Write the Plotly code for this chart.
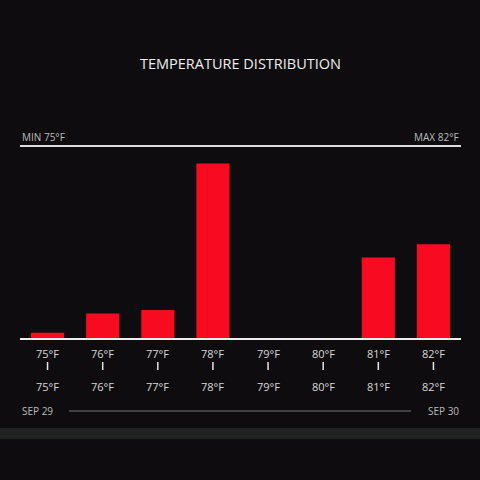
import plotly.graph_objects as go

categories = ["75°F", "76°F", "77°F", "78°F", "79°F", "80°F", "81°F", "82°F"]
values = [3.5, 14.5, 16.5, 100, 0, 0.4, 46.5, 54]
upper_labels = ["75°F", "76°F", "77°F", "78°F", "79°F", "80°F", "81°F", "82°F"]
lower_labels = ["75°F", "76°F", "77°F", "78°F", "79°F", "80°F", "81°F", "82°F"]
min_label = "MIN 75°F"
max_label = "MAX 82°F"
start_label = "SEP 29"
end_label = "SEP 30"
title = "TEMPERATURE DISTRIBUTION"

bg = "#0f0c0f"
font_family = "Open Sans, Lato, sans-serif"
label_color = "#d8d8d8"

fig = go.Figure(
    go.Bar(
        x=categories,
        y=values,
        marker=dict(color="#f80b20", line=dict(width=0)),
        width=0.6,
    )
)


def py(pixel_y):
    # convert a pixel row into paper coordinates of the plot area (146..339)
    return (339 - pixel_y) / 193


def note(x, y, text, size, color, xref="paper", xanchor="center"):
    return dict(x=x, y=py(y), xref=xref, yref="paper", text=text, xanchor=xanchor,
                yanchor="middle", showarrow=False, font=dict(size=size, color=color))


annotations = []
shapes = []
for i, (cat, top, bottom) in enumerate(zip(categories, upper_labels, lower_labels)):
    annotations.append(note(cat, 353, top, 11, label_color, xref="x"))
    annotations.append(note(cat, 386, bottom, 11, label_color, xref="x"))
    shapes.append(dict(type="line", xref="x", yref="paper", x0=i, x1=i,
                       y0=py(370), y1=py(362), line=dict(color="#e6e6e6", width=1.5)))

annotations += [
    note(0, 137, min_label, 10, "#bbbbbb", xanchor="left"),
    note(1, 137, max_label, 10, "#bbbbbb", xanchor="right"),
    note(0, 411, start_label, 10, "#bbbbbb", xanchor="left"),
    note(1, 411, end_label, 10, "#bbbbbb", xanchor="right"),
    note(0.5, 63, title, 14.5, "#eeeeee"),
]

shapes += [
    dict(type="line", xref="paper", yref="paper", x0=0, x1=1, y0=1, y1=1,
         line=dict(color="#dddddd", width=2)),
    dict(type="line", xref="paper", yref="paper", x0=0, x1=1, y0=0, y1=0,
         line=dict(color="#eeeeee", width=2)),
    dict(type="line", xref="paper", yref="paper", x0=(69 - 20) / 441, x1=(411 - 20) / 441,
         y0=py(411), y1=py(411), line=dict(color="#777777", width=1)),
    dict(type="rect", xref="paper", yref="paper", x0=-0.1, x1=1.1, y0=py(439), y1=py(428),
         fillcolor="#1f2220", line=dict(width=0), layer="below"),
]

fig.update_layout(
    width=480,
    height=480,
    paper_bgcolor=bg,
    plot_bgcolor=bg,
    margin=dict(l=20, r=19, t=146, b=141),
    font=dict(family=font_family),
    showlegend=False,
    bargap=0.4,
    xaxis=dict(showticklabels=False, showgrid=False, zeroline=False, showline=False,
               range=[-0.5, 7.5]),
    yaxis=dict(showticklabels=False, showgrid=False, zeroline=False, showline=False,
               range=[0, 110]),
    annotations=annotations,
    shapes=shapes,
)

fig.write_html("out.html", config=dict(displayModeBar=False),
               post_script="document.body.style.margin='0';"
               "document.body.style.background='" + bg + "';")
